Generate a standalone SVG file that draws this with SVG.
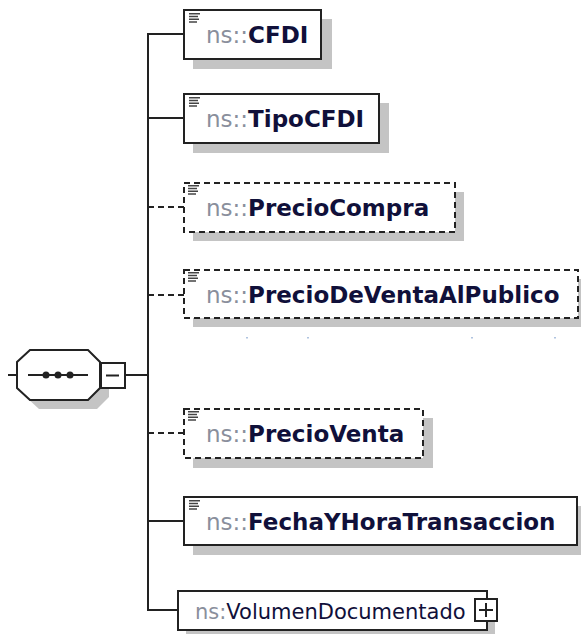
<svg xmlns="http://www.w3.org/2000/svg" width="581" height="634" viewBox="0 0 581 634">
<style>
.bg{fill:#ffffff}
.sh{fill:#c4c4c4}
.box{fill:#ffffff;stroke:#222222;stroke-width:2}
.opt{fill:#ffffff;stroke:#222222;stroke-width:2;stroke-dasharray:6 4}
.ln{fill:none;stroke:#222222;stroke-width:2}
.dln{fill:none;stroke:#222222;stroke-width:2;stroke-dasharray:6 4}
.ic{stroke:#444444;stroke-width:1.5}
.t{font-family:"DejaVu Sans","Verdana",sans-serif;font-size:23px}
.ns{fill:#8a8f9c}
.nm{fill:#10103a;font-weight:bold}
.t2{font-family:"DejaVu Sans","Verdana",sans-serif;font-size:21px}
.nm2{fill:#10103a}
</style>
<defs>
<g id="icon">
<line class="ic" x1="0" y1="0.75" x2="11" y2="0.75"/>
<line class="ic" x1="0" y1="3.5" x2="9" y2="3.5"/>
<line class="ic" x1="0" y1="6.25" x2="10" y2="6.25"/>
<line class="ic" x1="0" y1="9" x2="8" y2="9"/>
</g>
</defs>
<rect class="bg" x="0" y="0" width="581" height="634"/>

<g id="connectors">
<line class="ln" x1="148" y1="33" x2="148" y2="611"/>
<line class="ln" x1="125" y1="375" x2="148" y2="375"/>
<line class="ln" x1="147" y1="34" x2="184" y2="34"/>
<line class="ln" x1="147" y1="118" x2="184" y2="118"/>
<line class="dln" x1="148" y1="207" x2="184" y2="207"/>
<line class="dln" x1="148" y1="295" x2="184" y2="295"/>
<line class="dln" x1="148" y1="433" x2="184" y2="433"/>
<line class="ln" x1="147" y1="521" x2="184" y2="521"/>
<line class="ln" x1="147" y1="610" x2="178" y2="610"/>
</g>

<g id="sequence">
<polygon class="sh" points="39,359 97,359 109,371 109,397 97,409 39,409 26,397 26,371"/>
<line class="ln" x1="8" y1="375" x2="17" y2="375"/>
<polygon class="box" points="30,350 88,350 100,362 100,388 88,400 30,400 17,388 17,362"/>
<line class="ln" x1="28" y1="375" x2="88" y2="375"/>
<circle cx="46" cy="375" r="3.5" fill="#222222"/>
<circle cx="58" cy="375" r="3.5" fill="#222222"/>
<circle cx="70" cy="375" r="3.5" fill="#222222"/>
<rect class="box" x="101" y="363" width="24" height="25"/>
<line class="ln" x1="106" y1="375.5" x2="119" y2="375.5"/>
</g>

<g id="CFDI">
<rect class="sh" x="193" y="19" width="139" height="50"/>
<rect class="box" x="184" y="10" width="137" height="49"/>
<use href="#icon" x="189" y="13"/>
<text class="t" x="206" y="43"><tspan class="ns">ns::</tspan><tspan class="nm">CFDI</tspan></text>
</g>

<g id="TipoCFDI">
<rect class="sh" x="193" y="103" width="196" height="50"/>
<rect class="box" x="184" y="94" width="195" height="49"/>
<use href="#icon" x="189" y="97"/>
<text class="t" x="206" y="127"><tspan class="ns">ns::</tspan><tspan class="nm">TipoCFDI</tspan></text>
</g>

<g id="PrecioCompra">
<rect class="sh" x="193" y="192" width="271" height="49"/>
<rect class="opt" x="184" y="183" width="271" height="49"/>
<use href="#icon" x="188" y="185"/>
<text class="t" x="206" y="216"><tspan class="ns">ns::</tspan><tspan class="nm">PrecioCompra</tspan></text>
</g>

<g id="PrecioDeVentaAlPublico">
<rect class="sh" x="193" y="279" width="394" height="48"/>
<rect class="opt" x="184" y="270" width="394" height="48"/>
<use href="#icon" x="188" y="272"/>
<text class="t" x="206" y="303"><tspan class="ns">ns::</tspan><tspan class="nm">PrecioDeVentaAlPublico</tspan></text>
<g fill="#b0c4e0">
<rect x="246" y="337" width="2" height="1.5"/>
<rect x="307" y="337" width="2" height="1.5"/>
<rect x="471" y="337" width="2" height="1.5"/>
<rect x="554" y="337" width="2" height="1.5"/>
</g>
</g>

<g id="PrecioVenta">
<rect class="sh" x="193" y="418" width="240" height="50"/>
<rect class="opt" x="184" y="409" width="239" height="49"/>
<use href="#icon" x="188" y="411"/>
<text class="t" x="206" y="442"><tspan class="ns">ns::</tspan><tspan class="nm">PrecioVenta</tspan></text>
</g>

<g id="FechaYHoraTransaccion">
<rect class="sh" x="193" y="506" width="394" height="49"/>
<rect class="box" x="184" y="497" width="393" height="48"/>
<use href="#icon" x="189" y="500"/>
<text class="t" x="206" y="530"><tspan class="ns">ns::</tspan><tspan class="nm">FechaYHoraTransaccion</tspan></text>
</g>

<g id="VolumenDocumentado">
<rect class="sh" x="186" y="599" width="309" height="39"/>
<rect class="box" x="178" y="591" width="309" height="39"/>
<text class="t2" x="195" y="619"><tspan class="ns">ns:</tspan><tspan class="nm2">VolumenDocumentado</tspan></text>
<rect class="box" x="475" y="599" width="22" height="22"/>
<line class="ln" x1="479" y1="610" x2="493" y2="610"/>
<line class="ln" x1="486" y1="603" x2="486" y2="617"/>
</g>
</svg>
